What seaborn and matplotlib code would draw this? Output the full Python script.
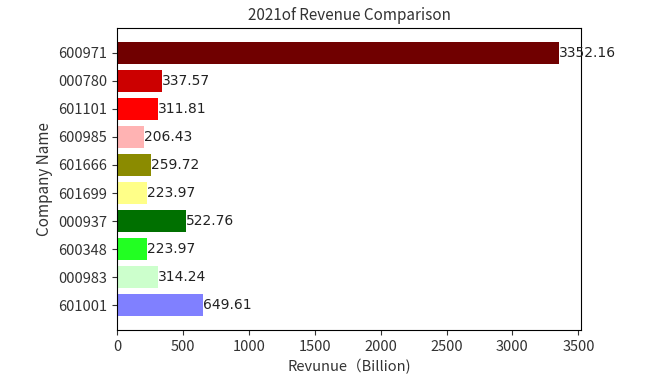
import pandas as pd
import seaborn as sns
import matplotlib.pyplot as plt

plt.rcParams["font.family"] = ["Noto Sans CJK JP", "DejaVu Sans"]

companies = [
    "600971", "000780", "601101", "600985", "601666",
    "601699", "000937", "600348", "000983", "601001"
]

revenue = [
    3352.16, 337.57, 311.81, 206.43, 259.72,
    223.97, 522.76, 223.97, 314.24, 649.61
]

colors = [
    "#700000", "#cc0000", "#ff0000", "#ffb3b3", "#8b8b00",
    "#ffff88", "#007000", "#22ff22", "#ccffcc", "#8080ff"
]

df = pd.DataFrame({
    "Company": companies,
    "Revenue": revenue
})

fig = plt.figure(figsize=(6.49, 3.83), dpi=100)
ax = fig.add_axes([0.1803, 0.1384, 0.7149, 0.7885])

sns.barplot(
    data=df,
    x="Revenue",
    y="Company",
    hue="Company",
    palette=colors,
    orient="h",
    width=0.8,
    legend=False,
    saturation=1,
    ax=ax
)

# value labels at bar ends
for i, v in enumerate(revenue):
    ax.text(v, i, f"{v:.2f}", va="center", ha="left",
            fontsize=10, family="DejaVu Sans", color="#222222")

n = len(companies)
ax.set_ylim(n - 1 + 0.89, -0.89)
ax.set_xlim(0, max(revenue) * 1.05)
ax.set_xticks([0, 500, 1000, 1500, 2000, 2500, 3000, 3500])
ax.tick_params(labelsize=10.5, colors="#333333")
ax.set_xlabel("Revunue（Billion)", fontsize=10.5, color="#333333")
ax.set_ylabel("Company Name", fontsize=11, color="#333333")
ax.set_title("2021of Revenue Comparison", fontsize=11, color="#333333")

plt.savefig("out.png", dpi=100)
